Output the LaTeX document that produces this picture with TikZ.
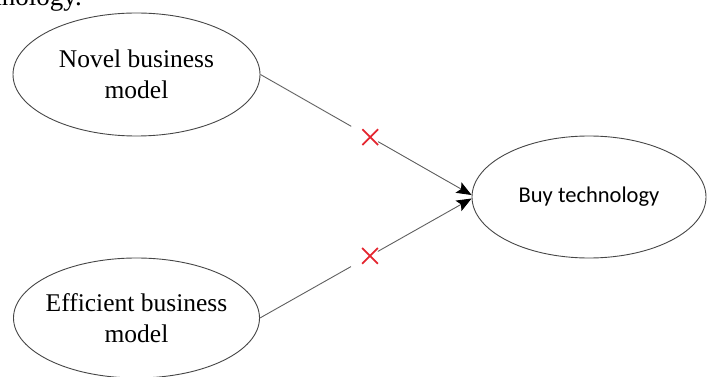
\documentclass[tikz,border=0pt]{standalone}
\usepackage{fontspec}
\setmainfont{Liberation Serif}
\newfontfamily\labelsans{Carlito}
\usetikzlibrary{shapes.geometric,shapes.misc,arrows.meta,calc}
\definecolor{outline}{RGB}{70,70,70}
\definecolor{wire}{RGB}{95,95,95}
\definecolor{xred}{RGB}{228,38,48}

\begin{document}
\begin{tikzpicture}[x=1pt,y=-1pt,
  oval/.style={ellipse, draw=outline, line width=0.9pt, inner xsep=-12pt,
    inner ysep=0pt, align=center, font=\fontsize{25.5}{31}\selectfont},
  wireline/.style={draw=wire, line width=0.9pt},
  tipped/.style={wireline, -{Stealth[length=15pt,width=12pt,inset=3pt,black]}},
  xmark/.style={cross out, draw=xred, line width=1.7pt,
    minimum size=14pt, inner sep=0pt}
]
\useasboundingbox (0,0) rectangle (707,377);

% tail of the sentence above the figure
\node[anchor=base east, inner sep=0pt, font=\fontsize{27}{32}\selectfont]
  (tail) at (82,6) {technology.};

% the three constructs
\node[oval, minimum width=247pt, minimum height=123pt] (novel) at (136.5,74.5)
  {Novel business\\model};
\node[oval, minimum width=246pt, minimum height=120pt] (eff) at (136.5,318)
  {Efficient business\\model};
\node[oval, minimum width=234pt, minimum height=122pt,
  font=\labelsans\fontsize{22.5}{27}\selectfont] (buy) at (589,197) {Buy technology};

% arrow end points on the left of the target
\coordinate (endA) at ($(buy.west)+(0,-2)$);
\coordinate (endB) at ($(buy.west)+(0,1.5)$);

% split points along each path: a gap, then the red cross
\path (novel.east) -- (endA) coordinate[pos=0.43] (gapA) coordinate[pos=0.52] (xA);
\path (eff.east) -- (endB) coordinate[pos=0.43] (gapB) coordinate[pos=0.52] (xB);

\node[xmark] (crossA) at (xA) {};
\node[xmark] (crossB) at (xB) {};

\draw[wireline] (novel.east) -- (gapA);
\draw[tipped] (crossA) -- (endA);
\draw[wireline] (eff.east) -- (gapB);
\draw[tipped] (crossB) -- (endB);
\end{tikzpicture}
\end{document}
